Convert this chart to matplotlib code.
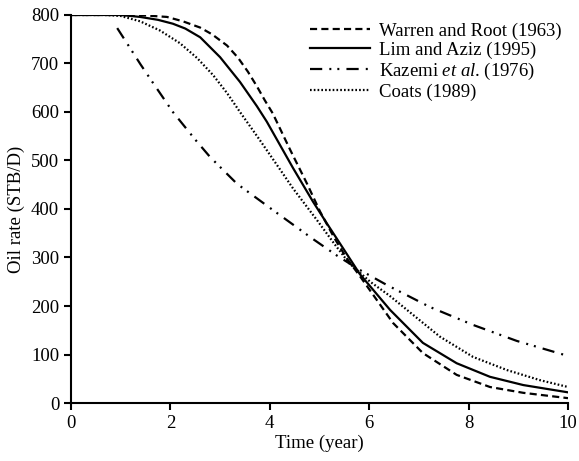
import numpy as np
import matplotlib
matplotlib.use('Agg')
import matplotlib.pyplot as plt

plt.rcParams['font.family'] = ['Liberation Serif', 'DejaVu Serif']
plt.rcParams['font.size'] = 13.5
plt.rcParams['mathtext.fontset'] = 'custom'
plt.rcParams['mathtext.rm'] = 'Liberation Serif'
plt.rcParams['mathtext.it'] = 'Liberation Serif:italic'

# Warren and Root (1963)
wr_t = [0, 1, 1.5, 1.93, 2.25, 2.6, 2.84, 3.14, 3.36, 3.56, 3.74, 3.9, 4.06, 4.41,
        4.75, 5.01, 5.3, 5.55, 5.81, 6.08, 6.48, 7.08, 7.76, 8.43, 9.1, 10]
wr_q = [800, 800, 799, 796, 787, 774, 760, 737, 712, 683, 653, 624, 597, 522,
        452, 395, 340, 298, 262, 223, 165, 103, 58, 33, 21, 10]

# Lim and Aziz (1995)
la_t = [0, 1, 1.39, 1.75, 2.05, 2.3, 2.6, 3.0, 3.4, 3.74, 3.94, 4.47, 4.87, 5.15,
        5.5, 5.81, 6.42, 7.08, 7.76, 8.43, 9.1, 10]
la_q = [800, 800, 796, 790, 782, 772, 754, 713, 662, 612, 580, 484, 415, 370,
        315, 266, 192, 124, 82, 54, 37, 22]

# Kazemi et al. (1976)
kz_t = [0.93, 1.2, 1.4, 1.65, 2.05, 2.5, 2.8, 3.34, 4.06, 4.87, 5.35, 5.8, 6.36,
        7.22, 8.09, 8.97, 10]
kz_q = [773, 730, 698, 660, 600, 543, 507, 452, 398, 338, 304, 275, 243,
        198, 161, 128, 97]

# Coats (1989)
co_t = [0, 0.7, 1.0, 1.39, 1.79, 2.19, 2.54, 2.86, 3.14, 3.4, 3.8, 4.27, 4.47,
        4.95, 5.3, 5.6, 6.02, 6.4, 6.76, 7.42, 8.09, 8.77, 9.44, 10]
co_q = [800, 800, 798, 787, 768, 742, 711, 676, 639, 600, 542, 472, 442,
        377, 328, 288, 250, 222, 192, 137, 95, 68, 47, 33]

fig = plt.figure(figsize=(5.79, 4.61), dpi=100)
ax = fig.add_axes([0.1226, 0.1258, 0.8584, 0.8417])

lw = 1.6
ax.plot(wr_t, wr_q, color='k', lw=lw, linestyle=(0, (3.2, 1.9)),
        label='Warren and Root (1963)')
ax.plot(la_t, la_q, color='k', lw=lw, linestyle='-', label='Lim and Aziz (1995)')
ax.plot(kz_t, kz_q, color='k', lw=lw,
        linestyle=(0, (5.5, 3.2, 0.9, 2.7, 0.9, 3.2)),
        label='Kazemi $\\it{et\\ al}$. (1976)')
ax.plot(co_t, co_q, color='k', lw=lw, linestyle=(0, (0.75, 0.95)),
        label='Coats (1989)')

ax.set_xlim(0, 10)
ax.set_ylim(0, 800)
ax.set_xticks([0, 2, 4, 6, 8, 10])
ax.set_yticks(range(0, 801, 100))
ax.spines['top'].set_visible(False)
ax.spines['right'].set_visible(False)
ax.spines['left'].set_linewidth(1.5)
ax.spines['bottom'].set_linewidth(1.5)
ax.tick_params(direction='out', length=5, width=1.5)
ax.set_xlabel('Time (year)', labelpad=2)
ax.set_ylabel('Oil rate (STB/D)', labelpad=4)

ax.legend(loc='upper right', frameon=False, handlelength=3.2, handletextpad=0.5,
          labelspacing=0.1, bbox_to_anchor=(1.01, 1.01), borderaxespad=0.2)

plt.savefig('out.png', dpi=100)
